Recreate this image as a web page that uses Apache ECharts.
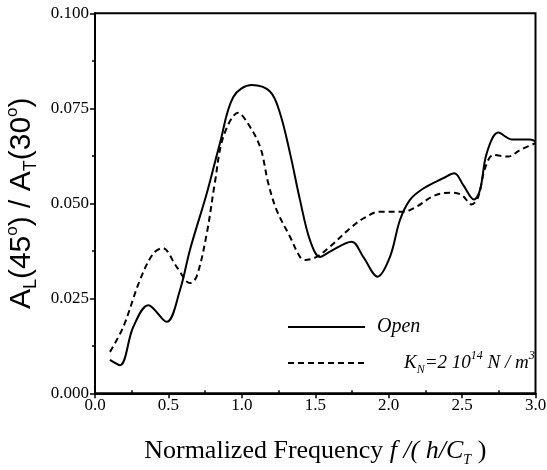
<!DOCTYPE html>
<html><head><meta charset="utf-8">
<script src="https://cdn.jsdelivr.net/npm/echarts@6/dist/echarts.min.js"></script>
<style>html,body{margin:0;padding:0;background:#fff;}#c{width:547px;height:470px;}</style>
</head><body><div id="c"></div>
<script>
const openX = [0.102,0.170,0.261,0.363,0.488,0.579,0.647,0.761,0.851,0.942,1.067,1.192,1.26,1.328,1.396,1.464,1.532,1.60,1.748,1.827,1.925,2.009,2.077,2.145,2.236,2.372,2.447,2.508,2.581,2.622,2.668,2.747,2.838,2.963,3.0];
const openY = [0.0088,0.0074,0.0175,0.0232,0.0188,0.0272,0.0378,0.0526,0.0658,0.078,0.0811,0.0794,0.0737,0.0632,0.0509,0.0403,0.0359,0.0373,0.0399,0.0359,0.0307,0.0359,0.0456,0.0509,0.0539,0.0566,0.0579,0.0548,0.051,0.0535,0.0632,0.0686,0.0668,0.0668,0.0663];
const kX = [0.102,0.193,0.306,0.397,0.461,0.556,0.647,0.692,0.761,0.817,0.874,0.976,1.033,1.124,1.18,1.237,1.328,1.396,1.43,1.51,1.60,1.737,1.827,1.941,2.1,2.19,2.304,2.418,2.497,2.565,2.61,2.656,2.713,2.815,2.894,3.0];
const kY = [0.0109,0.0175,0.0298,0.0368,0.0382,0.0333,0.029,0.0307,0.042,0.0556,0.0675,0.0738,0.0715,0.0649,0.0553,0.0482,0.0412,0.0359,0.0351,0.0359,0.0386,0.0434,0.046,0.0478,0.0478,0.0491,0.0519,0.0528,0.0522,0.0497,0.0517,0.0592,0.0627,0.0623,0.064,0.0658];
const seriesNames = ['Open', 'KN'];

const chart = echarts.init(document.getElementById('c'));
const serif = 'Liberation Serif';
const pair = (xs, ys) => xs.map((x, i) => [x, ys[i]]);
chart.setOption({
  animation: false,
  backgroundColor: '#fff',
  grid: { left: 95, right: 11.5, top: 13.3, bottom: 76.7, containLabel: false, outerBoundsMode: 'none',
    show: true, borderColor: '#000', borderWidth: 2 },
  legend: {
    orient: 'vertical', left: 282, top: 312, padding: [5,5,5,5], itemWidth: 77, itemHeight: 14, itemGap: 13,
    data: seriesNames.map(n => ({ name: n, icon: 'inherit' })),
    itemStyle: { opacity: 0 },
    textStyle: { fontFamily: serif, fontSize: 20, color: '#000', fontStyle: 'italic',
      rich: {
        g1: { width: 7 },
        g2: { width: 34 },
        i: { fontFamily: serif, fontSize: 20, fontStyle: 'italic', color: '#000', lineHeight: 26, verticalAlign: 'middle' },
        k: { fontFamily: serif, fontSize: 19, fontStyle: 'italic', color: '#000', lineHeight: 26, verticalAlign: 'middle' },
        sb: { fontFamily: serif, fontSize: 12, fontStyle: 'italic', color: '#000', lineHeight: 12, verticalAlign: 'bottom' },
        sp: { fontFamily: serif, fontSize: 12, fontStyle: 'italic', color: '#000', lineHeight: 12, verticalAlign: 'top' }
      }
    },
    formatter: n => n === 'Open' ? '{g1|}{i|Open}' : '{g2|}{k|K}{sb|N}{k|=2 10}{sp|14}{k| N / m}{sp|3}'
  },
  xAxis: {
    type: 'value', min: 0, max: 3, interval: 0.5,
    axisLine: { onZero: false, lineStyle: { color: '#000', width: 2 } },
    axisTick: { inside: false, length: 5, lineStyle: { color: '#000', width: 1.5 } },
    minorTick: { show: true, splitNumber: 2, length: -3, lineStyle: { color: '#000', width: 1.5 } },
    splitLine: { show: false },
    axisLabel: { fontFamily: serif, fontSize: 17, color: '#000', margin: 4, formatter: v => v.toFixed(1) },
    name: '{t|Normalized Frequency }{it|f /( h/C}{sb|T}{t| )}',
    nameLocation: 'middle', nameGap: 42,
    nameTextStyle: { rich: {
      t: { fontFamily: serif, fontSize: 26, color: '#000', lineHeight: 32, verticalAlign: 'middle' },
      it: { fontFamily: serif, fontSize: 26, color: '#000', fontStyle: 'italic', lineHeight: 32, verticalAlign: 'middle' },
      sb: { fontFamily: serif, fontSize: 14, color: '#000', fontStyle: 'italic', lineHeight: 14, verticalAlign: 'bottom' }
    } }
  },
  yAxis: {
    type: 'value', min: 0, max: 0.1, interval: 0.025,
    axisLine: { onZero: false, lineStyle: { color: '#000', width: 2 } },
    axisTick: { inside: false, length: 5, lineStyle: { color: '#000', width: 1.5 } },
    minorTick: { show: true, splitNumber: 2, length: 3, lineStyle: { color: '#000', width: 1.5 } },
    splitLine: { show: false },
    axisLabel: { fontFamily: serif, fontSize: 17, color: '#000', margin: 6, formatter: v => v.toFixed(3) },
    name: '{t|A}{sb|L}{t|(45}{sp|o}{t|) / A}{sb|T}{t|(30}{sp|o}{t|)}',
    nameLocation: 'middle', nameGap: 47, nameRotate: 90,
    nameTextStyle: { rich: {
      t: { fontFamily: 'Liberation Sans', fontSize: 30, color: '#000', lineHeight: 36, verticalAlign: 'middle' },
      sb: { fontFamily: 'Liberation Sans', fontSize: 18, color: '#000', lineHeight: 18, verticalAlign: 'bottom' },
      sp: { fontFamily: 'Liberation Sans', fontSize: 17, color: '#000', lineHeight: 17, verticalAlign: 'top' }
    } }
  },
  series: [
    { name: 'Open', type: 'line', data: pair(openX, openY), smooth: 0.35, symbol: 'none',
      itemStyle: { color: '#000' }, lineStyle: { color: '#000', width: 2 } },
    { name: 'KN', type: 'line', data: pair(kX, kY), smooth: 0.35, symbol: 'none',
      itemStyle: { color: '#000' }, lineStyle: { color: '#000', width: 2, type: [6, 4] } }
  ]
});
</script></body></html>
